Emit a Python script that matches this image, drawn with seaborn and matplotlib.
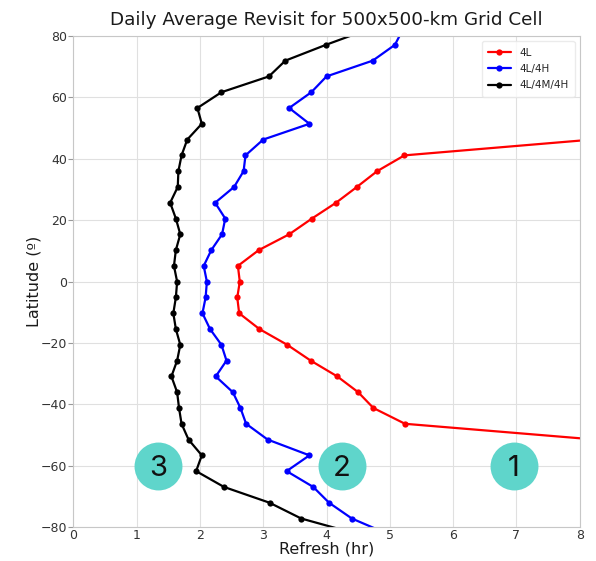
import numpy as np
import matplotlib
matplotlib.use('Agg')
import matplotlib.pyplot as plt
import seaborn as sns

# latitude bin centres (deg)
lat = [-82.29, -77.14, -72.0, -66.86, -61.71, -56.57, -51.43, -46.29, -41.14,
       -36.0, -30.86, -25.71, -20.57, -15.43, -10.29, -5.14, 0.0, 5.14, 10.29,
       15.43, 20.57, 25.71, 30.86, 36.0, 41.14, 46.29, 51.43, 56.57, 61.71,
       66.86, 72.0, 77.14, 82.29]

# refresh time (hr), 4L/4M/4H
refresh_lmh = [4.50, 3.60, 3.10, 2.38, 1.94, 2.03, 1.82, 1.71, 1.67,
               1.64, 1.55, 1.64, 1.69, 1.62, 1.58, 1.62, 1.64, 1.59, 1.62,
               1.69, 1.62, 1.53, 1.65, 1.66, 1.71, 1.80, 2.03, 1.96, 2.34,
               3.09, 3.35, 3.99, 4.67]

# 4L/4H
refresh_lh = [4.98, 4.40, 4.04, 3.79, 3.37, 3.73, 3.07, 2.73, 2.64,
              2.52, 2.25, 2.42, 2.34, 2.16, 2.04, 2.09, 2.11, 2.06, 2.18,
              2.35, 2.40, 2.24, 2.54, 2.69, 2.72, 3.00, 3.73, 3.41, 3.76,
              4.00, 4.73, 5.08, 5.21]

# 4L only covers mid latitudes
lat_l = [-51.43, -46.29, -41.14, -36.0, -30.86, -25.71, -20.57, -15.43, -10.29,
         -5.14, 0.0, 5.14, 10.29, 15.43, 20.57, 25.71, 30.86, 36.0, 41.14, 46.29]
refresh_l = [8.25, 5.24, 4.74, 4.50, 4.17, 3.75, 3.38, 2.94, 2.62,
             2.59, 2.63, 2.60, 2.93, 3.41, 3.77, 4.15, 4.48, 4.80, 5.23, 8.20]

badge_labels = ['1', '2', '3']
badge_x = [6.96, 4.24, 1.34]
badge_y = [-60, -60, -60]

sns.set_style('whitegrid', {'xtick.bottom': True, 'ytick.left': True,
                            'axes.edgecolor': '.78', 'grid.color': '.88',
                            'xtick.color': '.6', 'ytick.color': '.6'})
plt.rcParams['font.family'] = ['DejaVu Sans']

fig = plt.figure(figsize=(5.96, 5.61), dpi=100)
ax = fig.add_axes([0.123, 0.0601, 0.8497, 0.8756])

sns.lineplot(x=refresh_l, y=lat_l, orient='y', color='red', marker='o',
             markersize=4.5, markeredgewidth=0, linewidth=1.6, label='4L', ax=ax)
sns.lineplot(x=refresh_lh, y=lat, orient='y', color='blue', marker='o',
             markersize=4.5, markeredgewidth=0, linewidth=1.6, label='4L/4H', ax=ax)
sns.lineplot(x=refresh_lmh, y=lat, orient='y', color='black', marker='o',
             markersize=4.5, markeredgewidth=0, linewidth=1.6, label='4L/4M/4H', ax=ax)

ax.set_xlim(0, 8)
ax.set_ylim(-80, 80)
ax.set_xticks(range(0, 9))
ax.set_yticks(range(-80, 81, 20))
ax.tick_params(labelsize=9, labelcolor='.2', width=0.8)
ax.tick_params(axis='x', length=0, pad=1)
ax.tick_params(axis='y', length=3.5, pad=1)
ax.set_xlabel('Refresh (hr)', fontsize=11.5, color='.1', labelpad=0)
ax.set_ylabel('Latitude (º)', fontsize=11.5, color='.1', labelpad=-1)
ax.set_title('Daily Average Revisit for 500x500-km Grid Cell', fontsize=13.2,
             color='.1', pad=8)

leg = ax.legend(loc='upper right', fontsize=7.5, frameon=True, borderpad=0.6,
                handlelength=2.2, labelspacing=0.62)
leg.get_frame().set_edgecolor('.9')

ax.scatter(badge_x, badge_y, s=1190, color='#5fd5cb', zorder=10, linewidths=0)
for lbl, bx, by in zip(badge_labels, badge_x, badge_y):
    ax.text(bx, by, lbl, fontsize=21, family=['Inter', 'DejaVu Sans'],
            color='#111111', ha='center', va='center_baseline', zorder=11)

fig.savefig('out.png', dpi=100)
